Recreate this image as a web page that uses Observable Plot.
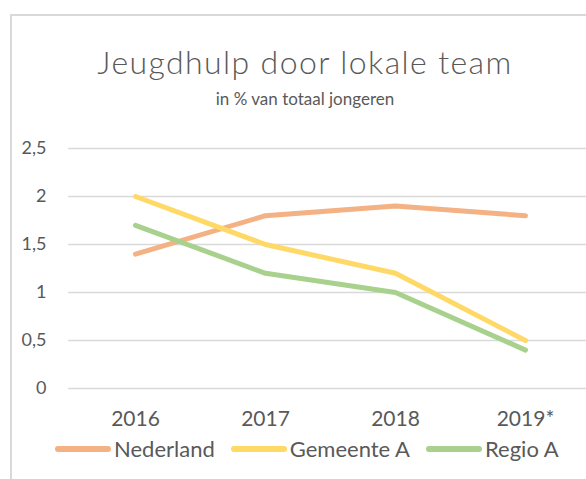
<!DOCTYPE html>
<html>
<head>
<meta charset="utf-8">
<script src="https://cdn.jsdelivr.net/npm/d3@7"></script>
<script src="https://cdn.jsdelivr.net/npm/@observablehq/plot@0.6"></script>
<style>
  html, body { margin: 0; padding: 0; background: #fff; overflow: hidden; width: 586px; height: 479px; }
  body { position: relative; font-family: Lato, "Open Sans", sans-serif; color: #595959; }
  #frame { position: absolute; left: 10px; top: 14px; width: 700px; height: 600px; border: 2px solid #d9d9d9; box-sizing: border-box; }
  #title { position: absolute; left: 10px; width: 590px; top: 42px; text-align: center; font-family: Lato, "Open Sans", sans-serif; font-size: 32px; letter-spacing: 1.4px; font-weight: 300; color: #595959; white-space: nowrap; }
  #subtitle { position: absolute; left: 10px; width: 590px; top: 88px; text-align: center; font-size: 17px; color: #595959; white-space: nowrap; }
  #chart { position: absolute; left: 0; top: 130px; width: 600px; }
  #chart svg { max-width: none; }
  #legend { position: absolute; left: 55px; top: 435px; display: flex; align-items: center; font-size: 22px; color: #595959; white-space: nowrap; }
  .item { display: flex; align-items: center; margin-right: 16px; }
  .sw { width: 56px; height: 6px; border-radius: 3px; margin-right: 3px; }
</style>
</head>
<body>
<div id="frame"></div>
<div id="title">Jeugdhulp door lokale team</div>
<div id="subtitle">in % van totaal jongeren</div>
<div id="chart"></div>
<div id="legend"></div>
<script>
const years = ["2016", "2017", "2018", "2019*"];
const seriesNames = ["Nederland", "Gemeente A", "Regio A"];
const nederland = [1.4, 1.8, 1.9, 1.8];
const gemeenteA = [2.0, 1.5, 1.2, 0.5];
const regioA = [1.7, 1.2, 1.0, 0.4];
const yTicks = [0, 0.5, 1, 1.5, 2, 2.5];
const colors = ["#F4B183", "#FFD966", "#A9D18E"];

const valuesBySeries = [nederland, gemeenteA, regioA];
const data = [];
seriesNames.forEach((s, i) => {
  years.forEach((y, j) => data.push({series: s, year: y, value: valuesBySeries[i][j]}));
});

const fmt = d => String(d).replace(".", ",");

const plot = Plot.plot({
  width: 600,
  height: 300,
  marginLeft: 68,
  marginRight: 9,
  marginTop: 18,
  marginBottom: 42,
  style: {fontFamily: "Lato, 'Open Sans', sans-serif", fontSize: "17px", color: "#595959", background: "transparent", maxWidth: "none"},
  x: {type: "band", domain: years, padding: 0, label: null},
  y: {domain: [0, 2.5], label: null},
  color: {domain: seriesNames, range: colors},
  marks: [
    Plot.gridY(yTicks, {stroke: "#d9d9d9", strokeOpacity: 1, strokeWidth: 1.5}),
    Plot.axisY(yTicks, {tickSize: 0, tickPadding: 22, tickFormat: fmt, fontSize: 18, fill: "#595959", label: null}),
    Plot.axisX({tickSize: 0, tickPadding: 23, fontSize: 21, fill: "#595959", label: null}),
    Plot.line(data, {x: "year", y: "value", z: "series", stroke: "series", strokeWidth: 5, strokeLinecap: "round", strokeLinejoin: "round"})
  ]
});
document.getElementById("chart").appendChild(plot);

const legend = document.getElementById("legend");
seriesNames.forEach((s, i) => {
  const item = document.createElement("div");
  item.className = "item";
  const sw = document.createElement("div");
  sw.className = "sw";
  sw.style.background = colors[i];
  const t = document.createElement("span");
  t.textContent = s;
  item.appendChild(sw);
  item.appendChild(t);
  legend.appendChild(item);
});
</script>
</body>
</html>
